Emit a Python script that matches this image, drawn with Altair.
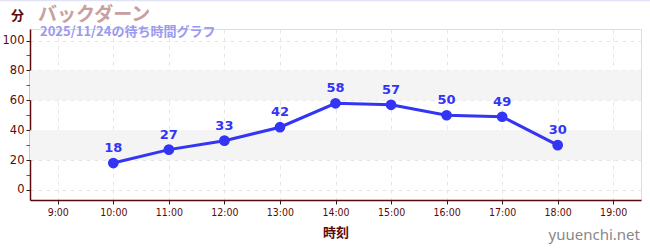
import altair as alt
import pandas as pd

hours = [10, 11, 12, 13, 14, 15, 16, 17, 18]
waits = [18, 27, 33, 42, 58, 57, 50, 49, 30]
band_lo = [20, 60]
band_hi = [40, 80]
title_text = "バックダーン"
subtitle_text = "2025/11/24の待ち時間グラフ"
y_unit = "分"
x_title = "時刻"
watermark = "yuuenchi.net"

df = pd.DataFrame({"hour": hours, "wait": waits})
bands = pd.DataFrame({"lo": band_lo, "hi": band_hi})

W, H = 611, 171
MAROON = "#5a0a0a"
BLUE = "#3434f4"
JP = "Noto Sans CJK JP"

xscale = alt.Scale(domain=[8.5, 19.5], nice=False, zero=False)
yscale = alt.Scale(domain=[-6.7, 107.7], nice=False, zero=False)

xaxis = alt.Axis(values=list(range(9, 20)), labelExpr="datum.value + ':00'",
                 title=x_title, titleFont=JP, titleFontSize=13, titleFontWeight="bold",
                 titleColor=MAROON, titlePadding=9,
                 labelFont="DejaVu Sans Condensed", labelFontSize=10.5,
                 labelColor=MAROON, labelPadding=3, labelOverlap=False,
                 domainColor=MAROON, domainWidth=1.5,
                 tickColor="#222222", tickSize=4,
                 grid=True, gridColor="#e6e6e6", gridDash=[4, 4], gridWidth=1)
yaxis = alt.Axis(values=list(range(0, 101, 10)),
                 labelExpr="datum.value % 20 === 0 ? datum.label : ''",
                 labelOverlap=False,
                 title=y_unit, titleAngle=0, titleX=-13, titleY=-14,
                 titleAlign="center", titleBaseline="middle",
                 titleFont=JP, titleFontSize=13, titleFontWeight="bold", titleColor=MAROON,
                 labelFont="DejaVu Sans", labelFontSize=11.5, labelColor=MAROON,
                 labelPadding=2,
                 domainColor=MAROON, domainWidth=1.5,
                 tickColor={"condition": {"test": "datum.value % 20 === 0", "value": "#222222"}, "value": "#dd2222"},
                 tickSize=4,
                 grid=True, gridColor="#e6e6e6", gridDash=[4, 4],
                 gridOpacity={"condition": {"test": "datum.value % 20 === 0", "value": 1}, "value": 0})

band_layer = alt.Chart(bands).mark_rect(color="#f4f4f4").encode(
    x=alt.value(0), x2=alt.value(W),
    y=alt.Y("lo:Q", scale=yscale, axis=yaxis), y2="hi:Q",
)

base = alt.Chart(df).encode(
    x=alt.X("hour:Q", scale=xscale, axis=xaxis),
    y=alt.Y("wait:Q", scale=yscale, axis=yaxis),
)

line = base.mark_line(color=BLUE, strokeWidth=3)
points = base.mark_circle(color=BLUE, size=115, opacity=1)
labels = base.mark_text(color=BLUE, font="DejaVu Sans", fontSize=13, fontWeight="bold",
                        dy=-15, baseline="middle").encode(text="wait:Q")

ann = pd.DataFrame({"t": [title_text]})
title_layer = alt.Chart(ann).mark_text(font=JP, fontSize=19, fontWeight="bold", color="#c8a0a0",
                                       align="left", baseline="middle").encode(
    x=alt.value(8), y=alt.value(-14), text="t:N")
sub = pd.DataFrame({"t": [subtitle_text]})
sub_layer = alt.Chart(sub).mark_text(font=JP, fontSize=13, fontWeight="bold", color="#9a9af0",
                                     align="left", baseline="middle").encode(
    x=alt.value(10), y=alt.value(3), text="t:N")
wm = pd.DataFrame({"t": [watermark]})
wm_layer = alt.Chart(wm).mark_text(font="Noto Sans", fontSize=15, color="#888888",
                                   align="right", baseline="middle").encode(
    x=alt.value(610), y=alt.value(206), text="t:N")
top_rule = alt.Chart(ann).mark_rule(color="#e2e2f6", strokeWidth=1.5).encode(
    x=alt.value(-30), x2=alt.value(620), y=alt.value(-28.5))

chart = alt.layer(band_layer, line, points, labels, title_layer, sub_layer, wm_layer, top_rule).properties(
    width=W, height=H,
    autosize=alt.AutoSizeParams(type="none"),
    padding={"left": 30, "top": 29, "right": 9, "bottom": 50},
).configure_view(stroke=None).configure(background="white")

chart.save("out.html", embed_options={"renderer": "svg", "actions": False})
